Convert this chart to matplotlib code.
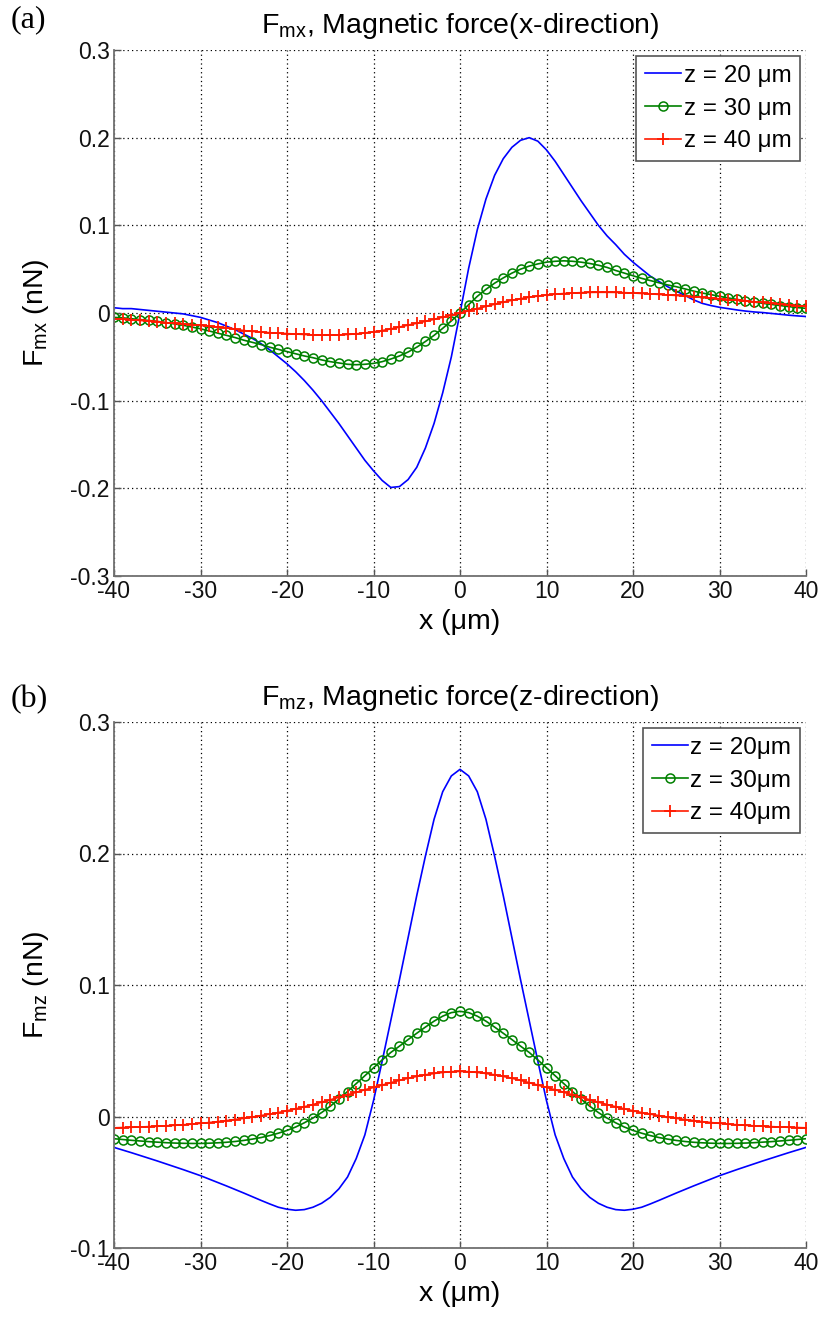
import matplotlib
matplotlib.use("Agg")
import matplotlib.pyplot as plt
import numpy as np

plt.rcParams['font.family'] = ['Liberation Sans', 'DejaVu Sans']
plt.rcParams['mathtext.fontset'] = 'custom'
plt.rcParams['mathtext.rm'] = 'Liberation Sans'
plt.rcParams['mathtext.it'] = 'Liberation Sans:italic'

# ---------------- data ----------------
x_um = np.arange(-40, 41, 1)

# (a) F_mx (nN)
fmx_z20 = [0.006, 0.005, 0.005, 0.004, 0.003, 0.002, 0.001, 0.000, -0.001, -0.003,
           -0.005, -0.008, -0.011, -0.015, -0.019, -0.024, -0.029, -0.035, -0.042, -0.050,
           -0.058, -0.067, -0.077, -0.088, -0.100, -0.113, -0.126, -0.140, -0.154, -0.168,
           -0.180, -0.191, -0.199, -0.198, -0.190, -0.176, -0.154, -0.126, -0.091, -0.050,
           0.000,
           0.051, 0.095, 0.130, 0.157, 0.176, 0.189, 0.197, 0.200, 0.196, 0.186,
           0.173, 0.158, 0.143, 0.128, 0.114, 0.100, 0.088, 0.078, 0.067, 0.058,
           0.050, 0.042, 0.036, 0.030, 0.025, 0.020, 0.015, 0.011, 0.0085, 0.0065,
           0.005, 0.0035, 0.0022, 0.0012, 0.0005, -0.0005, -0.0015, -0.0025, -0.0033, -0.004]
fmx_z30 = [-0.005, -0.0055, -0.0065, -0.0075, -0.0085, -0.0095, -0.011, -0.0125, -0.014, -0.016,
           -0.018, -0.0205, -0.023, -0.0255, -0.028, -0.031, -0.0335, -0.036, -0.039, -0.0415,
           -0.044, -0.0465, -0.049, -0.051, -0.0535, -0.0555, -0.057, -0.0585, -0.059, -0.0585,
           -0.0575, -0.0555, -0.0525, -0.049, -0.0445, -0.039, -0.0325, -0.0255, -0.0175, -0.009,
           0.000,
           0.0095, 0.019, 0.027, 0.034, 0.040, 0.0455, 0.050, 0.0535, 0.056, 0.058,
           0.059, 0.0595, 0.059, 0.058, 0.0565, 0.0545, 0.052, 0.0485, 0.0455, 0.0425,
           0.0395, 0.037, 0.0345, 0.032, 0.030, 0.0275, 0.025, 0.0228, 0.021, 0.019,
           0.0172, 0.0155, 0.014, 0.0125, 0.011, 0.0098, 0.0085, 0.0073, 0.0062, 0.0053]
fmx_z40 = [-0.0065, -0.007, -0.0078, -0.0085, -0.0093, -0.010, -0.011, -0.0118, -0.0125, -0.0133,
           -0.014, -0.015, -0.016, -0.017, -0.0185, -0.020, -0.021, -0.0218, -0.0225, -0.023,
           -0.0235, -0.024, -0.0245, -0.025, -0.0252, -0.0252, -0.025, -0.0245, -0.0238, -0.0228,
           -0.0215, -0.020, -0.0182, -0.016, -0.0138, -0.0117, -0.0095, -0.0072, -0.0048, -0.0024,
           0.000,
           0.0025, 0.005, 0.0075, 0.010, 0.0125, 0.0145, 0.0163, 0.018, 0.0193, 0.0205,
           0.0215, 0.0222, 0.0228, 0.0232, 0.0235, 0.0236, 0.0236, 0.0235, 0.0232, 0.0228,
           0.0223, 0.0218, 0.0212, 0.0206, 0.020, 0.0193, 0.0186, 0.0178, 0.017, 0.0162,
           0.0153, 0.0145, 0.0136, 0.0128, 0.012, 0.011, 0.010, 0.009, 0.0083, 0.0076]

# (b) F_mz (nN)
fmz_z20 = [-0.0235, -0.0255, -0.0275, -0.0296, -0.0317, -0.0338, -0.036, -0.0382, -0.0404, -0.0427,
           -0.045, -0.0476, -0.0502, -0.0528, -0.0555, -0.0582, -0.061, -0.0638, -0.0665, -0.069,
           -0.0705, -0.0713, -0.0708, -0.069, -0.066, -0.0615, -0.055, -0.046, -0.032, -0.014,
           0.012, 0.042, 0.073, 0.104, 0.136, 0.168, 0.198, 0.226, 0.247, 0.259,
           0.264,
           0.259, 0.247, 0.226, 0.198, 0.168, 0.136, 0.104, 0.073, 0.042, 0.012,
           -0.014, -0.032, -0.046, -0.055, -0.0615, -0.066, -0.069, -0.0708, -0.0713, -0.0705,
           -0.069, -0.0665, -0.0638, -0.061, -0.0582, -0.0555, -0.0528, -0.0502, -0.0476, -0.045,
           -0.0427, -0.0404, -0.0382, -0.036, -0.0338, -0.0317, -0.0296, -0.0275, -0.0255, -0.0235]
fmz_z30 = [-0.0169, -0.0175, -0.0181, -0.0186, -0.0191, -0.0195, -0.0199, -0.0202, -0.0204, -0.0205,
           -0.0205, -0.0203, -0.020, -0.0196, -0.019, -0.0182, -0.0172, -0.016, -0.0145, -0.0127,
           -0.0106, -0.008, -0.0048, -0.0012, 0.003, 0.0078, 0.0132, 0.019, 0.025, 0.031,
           0.037, 0.043, 0.0487, 0.0535, 0.0585, 0.0633, 0.068, 0.0725, 0.0763, 0.079,
           0.080,
           0.079, 0.0763, 0.0725, 0.068, 0.0633, 0.0585, 0.0535, 0.0487, 0.043, 0.037,
           0.031, 0.025, 0.019, 0.0132, 0.0078, 0.003, -0.0012, -0.0048, -0.008, -0.0106,
           -0.0127, -0.0145, -0.016, -0.0172, -0.0182, -0.019, -0.0196, -0.020, -0.0203, -0.0205,
           -0.0205, -0.0204, -0.0202, -0.0199, -0.0195, -0.0191, -0.0186, -0.0181, -0.0175, -0.0169]
fmz_z40 = [-0.0086, -0.0084, -0.0082, -0.008, -0.0077, -0.0074, -0.0071, -0.0067, -0.0063, -0.0058,
           -0.0052, -0.0046, -0.0039, -0.0031, -0.0023, -0.0014, -0.0004, 0.0007, 0.0018, 0.003,
           0.0044, 0.0058, 0.0074, 0.0091, 0.0109, 0.0127, 0.0146, 0.0165, 0.0184, 0.0203,
           0.0221, 0.0239, 0.0257, 0.0275, 0.0291, 0.0305, 0.0317, 0.0327, 0.0335, 0.0341,
           0.0343,
           0.0341, 0.0335, 0.0327, 0.0317, 0.0305, 0.0291, 0.0275, 0.0257, 0.0239, 0.0221,
           0.0203, 0.0184, 0.0165, 0.0146, 0.0127, 0.0109, 0.0091, 0.0074, 0.0058, 0.0044,
           0.003, 0.0018, 0.0007, -0.0004, -0.0014, -0.0023, -0.0031, -0.0039, -0.0046, -0.0052,
           -0.0058, -0.0063, -0.0067, -0.0071, -0.0074, -0.0077, -0.008, -0.0082, -0.0084, -0.0086]

x_ticks = [-40, -30, -20, -10, 0, 10, 20, 30, 40]
x_tick_labels = ['-40', '-30', '-20', '-10', '0', '10', '20', '30', '40']
ya_ticks = [-0.3, -0.2, -0.1, 0, 0.1, 0.2, 0.3]
ya_tick_labels = ['-0.3', '-0.2', '-0.1', '0', '0.1', '0.2', '0.3']
yb_ticks = [-0.1, 0, 0.1, 0.2, 0.3]
yb_tick_labels = ['-0.1', '0', '0.1', '0.2', '0.3']

legend_a = ['z = 20 \u03bcm', 'z = 30 \u03bcm', 'z = 40 \u03bcm']
legend_b = ['z = 20\u03bcm', 'z = 30\u03bcm', 'z = 40\u03bcm']

# ---------------- figure ----------------
W, H = 825, 1318
fig = plt.figure(figsize=(W / 100, H / 100), dpi=100)
FS_TICK = 16.5
FS_LAB = 20.5
FS_LEG = 17.5

def make_axes(rect, y_ticks, y_labels, ylim, series, labels, title, ylabel):
    ax = fig.add_axes(rect)
    ax.plot(x_um, series[0], color='#0000ff', lw=1.2, label=labels[0])
    ax.plot(x_um, series[1], color='#008000', lw=1.2, marker='o', ms=6.5,
            mfc='none', mec='#008000', mew=1.1, label=labels[1])
    ax.plot(x_um, series[2], color='#ff1a00', lw=1.2, marker='+', ms=8,
            mec='#ff1a00', mew=1.3, label=labels[2])
    ax.set_xlim(-40, 40)
    ax.set_ylim(*ylim)
    ax.set_xticks(x_ticks)
    ax.set_xticklabels(x_tick_labels)
    ax.set_yticks(y_ticks)
    ax.set_yticklabels(y_labels)
    ax.tick_params(direction='in', length=5, width=1, labelsize=FS_TICK, colors='#555555',
                   labelcolor='#111111', pad=3)
    ax.grid(True, color='black', linestyle=(0, (1, 2.5)), linewidth=0.9)
    for s in ('top', 'right'):
        ax.spines[s].set_visible(False)
    for s in ('left', 'bottom'):
        ax.spines[s].set_color('#707070')
        ax.spines[s].set_linewidth(1.3)
    ax.set_xlabel('x (\u03bcm)', fontsize=FS_LAB, labelpad=4)
    ax.set_ylabel(ylabel, fontsize=FS_LAB, labelpad=14)
    ax.set_title(title, fontsize=FS_LAB, pad=12)
    leg = ax.legend(loc='upper right', fontsize=FS_LEG, handlelength=1.5, handletextpad=0.1,
                    labelspacing=0.45, borderpad=0.35, borderaxespad=0.25, numpoints=1,
                    fancybox=False, framealpha=1, edgecolor='#555555')
    leg.get_frame().set_linewidth(1.2)
    return ax

ax_a = make_axes([114 / W, 1 - 576 / H, 692 / W, 526 / H], ya_ticks, ya_tick_labels,
                 (-0.3, 0.3), [fmx_z20, fmx_z30, fmx_z40], legend_a,
                 r'F$_{\mathrm{mx}}$, Magnetic force(x-direction)', r'F$_{\mathrm{mx}}$ (nN)')
ax_b = make_axes([114 / W, 1 - 1248 / H, 692 / W, 526 / H], yb_ticks, yb_tick_labels,
                 (-0.1, 0.3), [fmz_z20, fmz_z30, fmz_z40], legend_b,
                 r'F$_{\mathrm{mz}}$, Magnetic force(z-direction)', r'F$_{\mathrm{mz}}$ (nN)')

fig.text(11 / W, 1 - 20 / H, '(a)', family='Liberation Serif', fontsize=23, va='center')
fig.text(11 / W, 1 - 700 / H, '(b)', family='Liberation Serif', fontsize=23, va='center')

fig.savefig('out.png', dpi=100)
